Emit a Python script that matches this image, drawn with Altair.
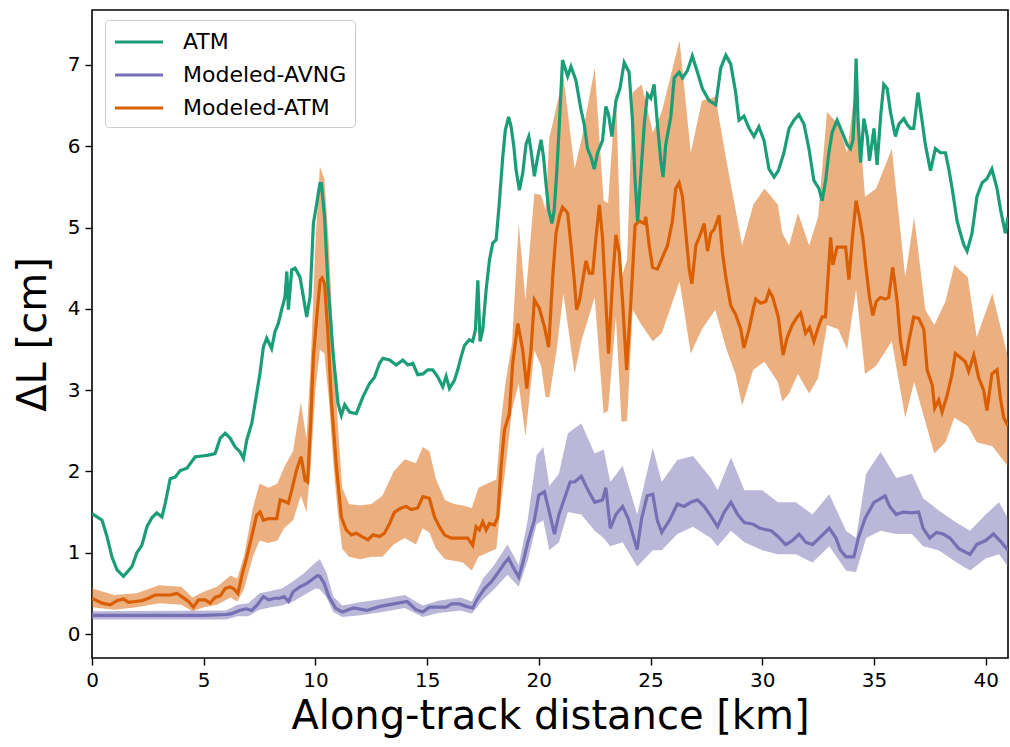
import altair as alt
import pandas as pd

# ---- Measured along-track profiles -------------------------------------
# ATM observations
atm_km = [0.0, 0.45, 0.67, 0.89, 1.12, 1.41, 1.79, 2.01, 2.23, 2.46, 2.68, 2.90, 3.13, 3.28, 3.50,
          3.72, 3.95, 4.25, 4.62, 4.92, 5.21, 5.51, 5.74, 5.96, 6.18, 6.41, 6.63, 6.78, 6.93, 7.15,
          7.30, 7.52, 7.67, 7.82, 8.04, 8.19, 8.34, 8.49, 8.64, 8.72, 8.79, 8.94, 9.09, 9.31, 9.46,
          9.61, 9.76, 9.91, 10.06, 10.20, 10.27, 10.41, 10.56, 10.78, 11.01, 11.16, 11.31, 11.53,
          11.83, 12.13, 12.42, 12.65, 12.87, 13.02, 13.32, 13.62, 13.91, 14.14, 14.36, 14.58, 14.81,
          15.03, 15.25, 15.48, 15.70, 15.85, 16.00, 16.22, 16.37, 16.52, 16.67, 16.89, 17.04, 17.16,
          17.27, 17.37, 17.49, 17.64, 17.79, 17.94, 18.09, 18.23, 18.38, 18.50, 18.65, 18.76, 18.88,
          18.98, 19.13, 19.28, 19.43, 19.55, 19.65, 19.80, 19.95, 20.10, 20.21, 20.32, 20.44, 20.59,
          20.69, 20.80, 20.92, 21.06, 21.29, 21.44, 21.66, 21.88, 22.03, 22.18, 22.33, 22.48, 22.63,
          22.85, 23.00, 23.12, 23.27, 23.45, 23.63, 23.82, 24.04, 24.19, 24.31, 24.42, 24.57, 24.72,
          24.86, 25.01, 25.16, 25.31, 25.46, 25.56, 25.68, 25.91, 26.06, 26.28, 26.43, 26.65, 26.87,
          27.10, 27.32, 27.62, 27.92, 28.14, 28.37, 28.59, 28.81, 28.96, 29.18, 29.41, 29.63, 29.85,
          30.08, 30.30, 30.53, 30.72, 30.97, 31.20, 31.42, 31.64, 31.87, 32.09, 32.31, 32.54, 32.68,
          32.84, 32.98, 33.13, 33.35, 33.58, 33.80, 33.95, 34.06, 34.15, 34.20, 34.29, 34.40, 34.55,
          34.70, 34.80, 35.00, 35.14, 35.30, 35.44, 35.59, 35.74, 35.96, 36.11, 36.34, 36.48, 36.63,
          36.78, 36.97, 37.15, 37.30, 37.53, 37.75, 37.98, 38.20, 38.35, 38.50, 38.72, 38.87, 39.02,
          39.17, 39.39, 39.61, 39.84, 40.06, 40.28, 40.51, 40.66, 40.88, 41.0]
atm_dl = [1.48, 1.40, 1.20, 0.95, 0.79, 0.71, 0.83, 1.00, 1.09, 1.32, 1.43, 1.49, 1.44, 1.61, 1.91,
          1.93, 2.01, 2.04, 2.18, 2.19, 2.20, 2.22, 2.41, 2.47, 2.41, 2.30, 2.24, 2.16, 2.39, 2.59,
          2.84, 3.21, 3.53, 3.64, 3.51, 3.72, 3.82, 3.99, 4.15, 4.46, 3.99, 4.48, 4.50, 4.39, 4.15,
          3.90, 4.15, 5.05, 5.30, 5.54, 5.54, 5.13, 4.31, 3.49, 2.84, 2.69, 2.82, 2.73,
          2.71, 2.92, 3.08, 3.16, 3.33, 3.39, 3.37, 3.31, 3.37, 3.31, 3.33, 3.19, 3.20,
          3.25, 3.25, 3.16, 3.04, 3.17, 3.02, 3.12, 3.25, 3.41, 3.55, 3.62, 3.60, 3.74,
          4.35, 3.60, 3.74, 4.23, 4.60, 4.81, 4.85, 5.30, 5.85, 6.20, 6.36, 6.24, 6.00,
          5.71, 5.46, 5.67, 6.03, 6.12, 5.95, 5.63, 5.87, 6.08, 5.87, 5.54, 5.22, 5.05,
          5.22, 5.67, 6.28, 7.06, 6.86, 6.98, 6.81, 6.46, 6.27, 5.97, 5.87, 5.72, 5.92,
          6.07, 6.49, 6.39, 6.12, 6.56, 6.71, 7.03, 6.91, 6.32, 5.58, 5.08, 5.67, 6.27,
          6.64, 6.59, 6.76, 6.27, 5.82, 5.62, 6.02, 6.37, 6.84, 6.91, 6.84, 6.93, 7.11,
          6.91, 6.71, 6.56, 6.51, 6.96, 7.12, 7.01, 6.66, 6.32, 6.37, 6.22, 6.12, 6.24,
          6.07, 5.72, 5.62, 5.70, 5.92, 6.22, 6.32, 6.39, 6.27, 5.97, 5.58, 5.48, 5.33,
          5.58, 5.92, 6.17, 6.32, 6.17, 6.02, 5.97, 6.07, 6.56, 7.08, 6.32, 5.80, 6.34,
          6.12, 5.82, 6.22, 5.77, 6.37, 6.76, 6.71, 6.42, 6.12, 6.27, 6.34, 6.27, 6.22,
          6.22, 6.66, 6.32, 6.02, 5.70, 5.97, 5.92, 5.92, 5.72, 5.48, 5.08, 4.93, 4.79,
          4.71, 4.93, 5.38, 5.55, 5.60, 5.72, 5.48, 5.23, 4.93, 5.13]

# Modeled from AVNG
avng_km = [0.0, 1.0, 2.0, 3.0, 4.0, 5.0, 6.0, 6.25, 6.6, 6.9, 7.15, 7.4, 7.67, 7.9, 8.2, 8.4, 8.6,
           8.8, 9.0, 9.3, 9.6, 9.9, 10.1, 10.2, 10.4, 10.6, 10.9, 11.2, 11.7, 12.3, 12.9, 13.5,
           14.1, 14.5, 14.8, 15.1, 15.55, 15.85, 16.1, 16.45, 16.75, 17.04, 17.27, 17.57, 17.87,
           18.16, 18.46, 18.65, 18.83, 19.1, 19.28, 19.5, 19.8, 20.0, 20.25, 20.47, 20.7, 20.9,
           21.15, 21.4, 21.6, 21.9, 22.2, 22.5, 22.85, 23.0, 23.2, 23.45, 23.75, 24.0, 24.4, 24.6,
           24.85, 25.1, 25.3, 25.5, 25.85, 26.2, 26.5, 26.8, 27.1, 27.4, 27.7, 28.0, 28.3, 28.6,
           28.9, 29.2, 29.6, 29.9, 30.4, 30.7, 31.05, 31.35, 31.65, 31.95, 32.25, 32.55, 33.0,
           33.3, 33.5, 33.75, 34.1, 34.3, 34.6, 35.0, 35.2, 35.5, 35.7, 36.0, 36.3, 36.7, 37.0,
           37.2, 37.5, 37.8, 38.1, 38.4, 38.8, 39.3, 39.6, 40.0, 40.35, 40.7, 41.0]
avng_dl = [0.23, 0.23, 0.23, 0.23, 0.23, 0.23, 0.24, 0.25, 0.29, 0.31, 0.29, 0.36, 0.46, 0.42, 0.44,
           0.44, 0.46, 0.40, 0.52, 0.58, 0.62, 0.68, 0.72, 0.71, 0.62, 0.46, 0.32, 0.27, 0.32, 0.29,
           0.34, 0.37, 0.40, 0.30, 0.27, 0.33, 0.33, 0.33, 0.37, 0.37, 0.34, 0.32, 0.44, 0.56, 0.64,
           0.75, 0.87, 0.93, 0.83, 0.70, 0.87, 1.12, 1.40, 1.71, 1.75, 1.50, 1.23, 1.47,
           1.67, 1.87, 1.87, 1.94, 1.77, 1.62, 1.65, 1.80, 1.30, 1.47, 1.57, 1.42, 1.04, 1.42,
           1.70, 1.72, 1.40, 1.25, 1.40, 1.60, 1.57, 1.62, 1.65, 1.57, 1.45, 1.32, 1.50, 1.62,
           1.47, 1.37, 1.35, 1.30, 1.27, 1.20, 1.10, 1.15, 1.23, 1.13, 1.10, 1.18, 1.30,
           1.18, 1.03, 0.95, 0.95, 1.18, 1.42, 1.62, 1.65, 1.70, 1.57, 1.47, 1.50, 1.49, 1.50,
           1.30, 1.18, 1.25, 1.23, 1.18, 1.05, 0.98, 1.10, 1.15, 1.23, 1.13, 1.03]

# Modeled from ATM
matm_km = [0.0, 0.45, 0.82, 1.12, 1.41, 1.64, 1.94, 2.23, 2.53, 2.83, 3.13, 3.50, 3.80, 4.02, 4.32,
           4.54, 4.77, 5.06, 5.29, 5.51, 5.74, 5.96, 6.18, 6.33, 6.53, 6.70, 6.93, 7.15, 7.37, 7.52,
           7.67, 7.90, 8.27, 8.42, 8.64, 8.79, 8.94, 9.16, 9.36, 9.54, 9.65, 9.80, 9.91, 10.06,
           10.21, 10.30, 10.41, 10.56, 10.71, 10.94, 11.16, 11.38, 11.61, 11.83, 12.06, 12.35,
           12.58, 12.87, 13.09, 13.32, 13.54, 13.84, 14.06, 14.29, 14.58, 14.81, 15.10, 15.33,
           15.55, 15.78, 16.08, 16.45, 16.82, 17.04, 17.19, 17.34, 17.49, 17.64, 17.79, 18.01,
           18.16, 18.31, 18.46, 18.68, 18.83, 19.06, 19.28, 19.46, 19.65, 19.80, 20.02, 20.25,
           20.44, 20.62, 20.77, 20.92, 21.06, 21.29, 21.44, 21.59, 21.69, 21.81, 21.96, 22.11,
           22.26, 22.41, 22.56, 22.71, 22.85, 23.00, 23.12, 23.30, 23.45, 23.60, 23.75, 23.93,
           24.12, 24.31, 24.49, 24.72, 24.79, 24.94, 25.09, 25.31, 25.54, 25.76, 25.98, 26.13,
           26.28, 26.43, 26.58, 26.73, 26.85, 27.03, 27.25, 27.40, 27.55, 27.70, 27.85, 28.07,
           28.22, 28.37, 28.59, 28.81, 29.04, 29.18, 29.41, 29.59, 29.71, 29.93, 30.16, 30.31,
           30.46, 30.72, 30.93, 31.12, 31.34, 31.57, 31.72, 31.94, 32.12, 32.31, 32.54, 32.68,
           32.83, 33.06, 33.16, 33.35, 33.58, 33.73, 33.88, 34.03, 34.20, 34.35, 34.50, 34.65,
           34.80, 34.95, 35.10, 35.29, 35.52, 35.66, 35.84, 36.04, 36.19, 36.38, 36.56, 36.78,
           37.01, 37.23, 37.38, 37.61, 37.72, 37.90, 38.05, 38.27, 38.50, 38.64, 38.87, 39.09,
           39.24, 39.47, 39.69, 39.91, 40.06, 40.28, 40.51, 40.66, 40.81, 41.0]
matm_dl = [0.44, 0.38, 0.36, 0.41, 0.43, 0.39, 0.40, 0.41, 0.44, 0.48, 0.48, 0.48, 0.50, 0.46, 0.40,
           0.33, 0.42, 0.42, 0.38, 0.45, 0.47, 0.56, 0.58, 0.56, 0.50, 0.71, 0.95, 1.20, 1.46, 1.50,
           1.40, 1.42, 1.42, 1.65, 1.63, 1.61, 1.77, 2.02, 2.18, 1.89, 1.87, 2.67, 3.41, 3.90,
           4.35, 4.38, 4.31, 3.70, 2.88, 2.06, 1.44, 1.28, 1.22, 1.24, 1.20, 1.16,
           1.22, 1.20, 1.24, 1.36, 1.50, 1.55, 1.57, 1.53, 1.55, 1.69, 1.67, 1.44,
           1.32, 1.22, 1.18, 1.18, 1.18, 1.09, 1.32, 1.28, 1.38, 1.28, 1.36, 1.34,
           1.44, 2.06, 2.51, 2.71, 3.33, 3.82, 3.49, 3.02, 3.49, 4.11, 4.01, 3.78,
           3.53, 4.39, 4.93, 5.13, 5.25, 5.18, 4.78, 4.34, 3.99, 4.09, 4.34, 4.59,
           4.44, 4.44, 4.88, 5.28, 4.88, 4.09, 3.45, 4.34, 4.91, 4.69, 4.09, 3.25,
           4.09, 5.03, 5.08, 5.05, 5.13, 4.78, 4.51, 4.49, 4.64, 4.78, 5.08, 5.48,
           5.55, 5.38, 4.93, 4.49, 4.31, 4.78, 4.93, 5.05, 4.71, 4.93, 4.98, 5.15,
           4.69, 4.39, 4.04, 3.93, 3.75, 3.52, 3.75, 3.99, 4.12, 4.07, 4.09, 4.22,
           4.15, 3.90, 3.43, 3.65, 3.80, 3.90, 3.95, 3.70, 3.77, 3.60, 3.80, 3.90,
           3.90, 4.88, 4.54, 4.76, 4.76, 4.76, 4.36, 4.86, 5.33, 5.13, 4.88, 4.49,
           4.14, 3.92, 4.09, 4.14, 4.12, 4.14, 4.51, 4.09, 3.60, 3.30, 3.60, 3.90,
           3.88, 3.75, 3.25, 3.06, 2.78, 2.88, 2.73, 2.93, 3.20, 3.45, 3.40, 3.35,
           3.23, 3.43, 3.15, 3.00, 2.75, 3.20, 3.25, 2.90, 2.66, 2.56]

# Uncertainty envelopes of the two model runs
avng_band_km = [0.0, 6.0, 6.5, 7.0, 7.5, 8.0, 8.5, 9.0, 9.5, 10.0, 10.2, 10.5, 10.8, 11.2, 12.0,
                13.0, 14.0, 14.8, 15.5, 16.5, 17.0, 17.5, 18.0, 18.6, 19.1, 19.5, 19.9, 20.2,
                20.47, 20.9, 21.3, 21.9, 22.5, 22.9, 23.2, 23.75, 24.4, 25.1, 25.5, 26.2, 26.9,
                27.7, 28.0, 28.6, 29.2, 30.0, 30.7, 31.5, 32.25, 33.0, 33.75, 34.2, 34.65, 35.3,
                36.0, 36.7, 37.2, 37.9, 38.7, 39.3, 40.0, 40.6, 41.0]
avng_lo = [0.18, 0.18, 0.22, 0.22, 0.30, 0.33, 0.35, 0.40, 0.48, 0.56, 0.55, 0.45, 0.27, 0.21, 0.23,
           0.27, 0.32, 0.21, 0.26, 0.29, 0.25, 0.42, 0.55, 0.73, 0.58, 0.90, 1.35, 1.40,
           1.03, 1.13, 1.50, 1.47, 1.27, 1.18, 1.08, 1.13, 0.83, 1.03, 1.03, 1.23, 1.32,
           1.18, 1.08, 1.27, 1.13, 1.03, 0.98, 0.98, 0.88, 1.08, 0.78, 0.76, 1.18, 1.27,
           1.23, 1.23, 1.08, 1.03, 0.88, 0.78, 0.93, 0.98, 0.83]
avng_hi = [0.28, 0.29, 0.36, 0.38, 0.50, 0.53, 0.56, 0.65, 0.75, 0.88, 0.92, 0.75, 0.46, 0.35, 0.39,
           0.43, 0.48, 0.35, 0.41, 0.45, 0.40, 0.68, 0.85, 1.10, 0.85, 1.40, 2.20, 2.30,
           1.82, 1.97, 2.47, 2.59, 2.22, 2.27, 1.87, 2.07, 1.47, 2.29, 1.87, 2.14, 2.19,
           1.92, 1.77, 2.17, 1.77, 1.77, 1.62, 1.62, 1.47, 1.72, 1.27, 1.18, 1.97, 2.24,
           1.92, 1.97, 1.67, 1.52, 1.37, 1.27, 1.47, 1.62, 1.42]

matm_band_km = [0.0, 1.0, 2.0, 3.0, 4.0, 4.5, 5.0, 5.6, 6.2, 6.5, 6.8, 7.2, 7.5, 7.9, 8.3, 8.6,
                9.0, 9.35, 9.6, 9.8, 10.0, 10.2, 10.4, 10.6, 10.8, 11.0, 11.2, 11.5, 12.0, 12.5,
                13.0, 13.5, 14.0, 14.5, 14.8, 15.1, 15.4, 15.8, 16.2, 16.6, 17.0, 17.3, 17.7,
                18.1, 18.3, 18.5, 18.8, 19.1, 19.4, 19.8, 20.1, 20.3, 20.47, 20.8, 21.1, 21.6,
                21.9, 22.5, 22.9, 23.1, 23.45, 23.7, 23.95, 24.2, 24.6, 25.1, 25.5, 26.3, 26.8,
                27.3, 27.9, 28.4, 28.8, 29.1, 29.6, 30.1, 30.7, 30.9, 31.2, 31.6, 32.1, 32.5,
                32.9, 33.4, 33.8, 34.2, 34.6, 35.1, 35.8, 36.4, 36.8, 37.3, 37.7, 38.2, 38.6,
                39.2, 39.6, 40.3, 41.0]
matm_lo = [0.33, 0.30, 0.33, 0.38, 0.36, 0.28, 0.33, 0.36, 0.45, 0.40, 0.55, 0.95, 1.15, 1.12, 1.15,
           1.30, 1.40, 1.70, 1.50, 2.10, 3.00, 3.50, 3.45, 2.90, 2.10, 1.50, 1.05, 0.95, 0.92,
           0.95, 0.95, 1.10, 1.18, 1.10, 1.30, 1.25, 1.05, 0.92, 0.90, 0.88, 0.78, 0.95, 1.00,
           1.05, 1.60, 2.02, 2.76, 3.08, 2.43, 3.49, 3.30, 2.92, 2.91, 3.50, 4.19, 3.20,
           3.60, 4.14, 2.71, 2.75, 3.90, 2.61, 2.62, 3.99, 3.80, 3.60, 3.70, 4.34, 3.45,
           3.75, 3.99, 3.50, 3.20, 2.81, 3.25, 3.35, 3.10, 2.86, 2.96, 3.20, 2.96, 3.15,
           3.80, 3.75, 3.50, 4.24, 3.20, 3.30, 3.60, 2.66, 3.10, 2.61, 2.22, 2.36, 2.66,
           2.56, 2.36, 2.31, 2.06]
matm_hi = [0.56, 0.48, 0.50, 0.60, 0.58, 0.45, 0.52, 0.58, 0.72, 0.68, 0.95, 1.55, 1.85, 1.80, 1.85,
           2.05, 2.25, 2.85, 2.40, 3.40, 4.80, 5.75, 5.60, 4.80, 3.60, 2.60, 1.80, 1.60, 1.58,
           1.60, 1.70, 2.00, 2.15, 2.10, 2.30, 2.25, 1.90, 1.65, 1.60, 1.58, 1.55, 1.80, 1.85,
           1.90, 2.60, 3.08, 3.58, 5.05, 4.11, 5.42, 5.40, 5.22, 6.10, 6.50, 6.86, 5.72,
           6.07, 6.96, 5.33, 5.30, 6.70, 4.39, 4.60, 6.66, 6.76, 6.17, 6.42, 7.30, 5.92,
           6.56, 6.61, 5.82, 5.23, 4.78, 5.28, 5.48, 5.28, 4.93, 4.78, 5.18, 4.78, 5.13,
           6.42, 6.27, 5.92, 6.81, 5.38, 5.48, 5.97, 4.39, 5.13, 3.99, 3.80, 4.09, 4.54,
           4.39, 3.65, 4.19, 3.40]

series_names = ["ATM", "Modeled-AVNG", "Modeled-ATM"]
series_colors = ["#1b9e77", "#7570b3", "#d95f02"]
x_ticks = [0, 5, 10, 15, 20, 25, 30, 35, 40]
y_ticks = [0, 1, 2, 3, 4, 5, 6, 7]

# ---- Tables --------------------------------------------------------------
def line_table(km, dl, name):
    return pd.DataFrame({"km": km, "dl": dl, "series": name})

def band_table(km, lo, hi):
    return pd.DataFrame({"km": km, "lo": lo, "hi": hi})

atm_df = line_table(atm_km, atm_dl, series_names[0])
avng_df = line_table(avng_km, avng_dl, series_names[1])
matm_df = line_table(matm_km, matm_dl, series_names[2])
avng_band = band_table(avng_band_km, avng_lo, avng_hi)
matm_band = band_table(matm_band_km, matm_lo, matm_hi)

x_scale = alt.Scale(domain=[0, 41], nice=False, zero=False)
y_scale = alt.Scale(domain=[-0.295, 7.676], nice=False, zero=False)

x_axis = alt.Axis(values=x_ticks, title="Along-track distance [km]", format="d", labelFlush=False)
y_axis = alt.Axis(values=y_ticks, title="ΔL [cm]", format="d", labelFlush=False)

color = alt.Color(
    "series:N",
    scale=alt.Scale(domain=series_names, range=series_colors),
    sort=series_names,
    legend=alt.Legend(title=None, orient="none", legendX=13, legendY=10),
)


def band(df, fill):
    return alt.Chart(df).mark_area(
        color=fill, opacity=0.5, clip=True, interpolate="linear"
    ).encode(
        x=alt.X("km:Q", scale=x_scale, axis=x_axis),
        y=alt.Y("lo:Q", scale=y_scale, axis=y_axis),
        y2="hi:Q",
    )


def line(df):
    return alt.Chart(df).mark_line(strokeWidth=3.2, clip=True).encode(
        x=alt.X("km:Q", scale=x_scale, axis=x_axis),
        y=alt.Y("dl:Q", scale=y_scale, axis=y_axis),
        color=color,
    )


chart = alt.layer(
    band(matm_band, series_colors[2]),
    band(avng_band, series_colors[1]),
    line(avng_df),
    line(matm_df),
    line(atm_df),
).properties(
    width=916,
    height=648,
    autosize=alt.AutoSizeParams(type="none"),
    padding={"left": 92, "top": 10, "right": 2, "bottom": 89},
    background="white",
).configure(
    font="DejaVu Sans",
).configure_view(
    stroke="black",
    strokeWidth=1.6,
).configure_axis(
    domain=False,
    grid=False,
    ticks=True,
    tickSize=7,
    tickWidth=1.4,
    tickColor="black",
    labelColor="black",
    labelFontSize=20,
    labelPadding=5,
    titleColor="black",
    titleFontSize=40,
    titleFontWeight="normal",
).configure_axisX(
    titlePadding=6,
).configure_axisY(
    titlePadding=14,
).configure_legend(
    # legend key: a 48 px horizontal stroke starting at the entry's left edge
    symbolType="M-1,0H3",
    symbolSize=576,
    symbolStrokeWidth=3.2,
    labelFontSize=22,
    labelColor="black",
    labelLimit=0,
    labelOffset=42,
    rowPadding=8,
    padding=8,
    fillColor="rgba(255,255,255,0.85)",
    strokeColor="#cccccc",
    cornerRadius=4,
)

chart.save("out.html", embed_options={"renderer": "svg", "actions": False})
